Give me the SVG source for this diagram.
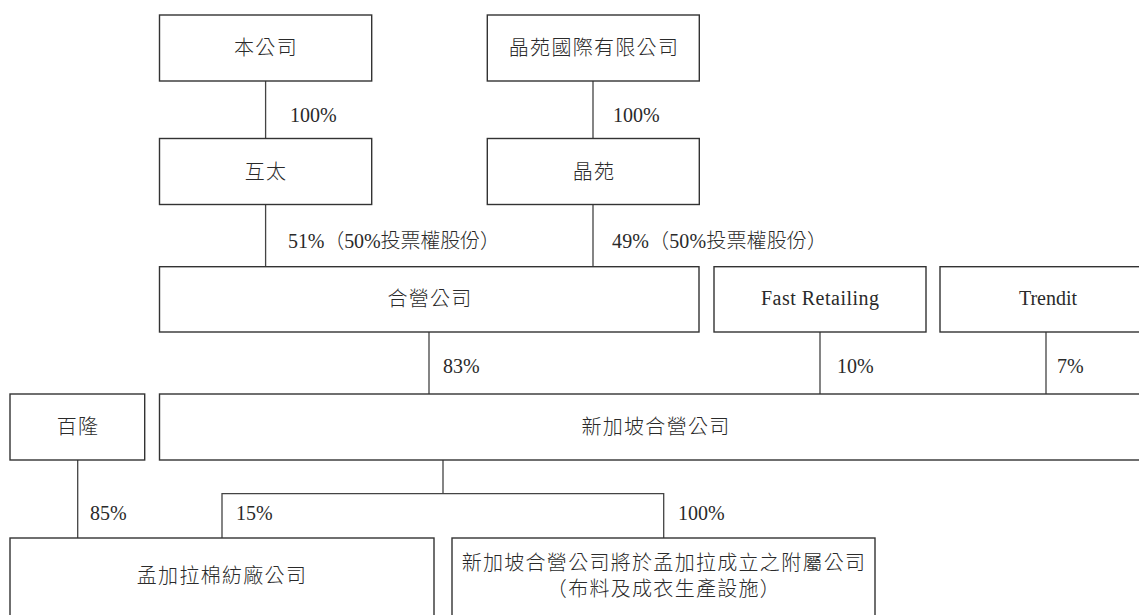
<svg xmlns="http://www.w3.org/2000/svg" width="1139" height="615" viewBox="0 0 1139 615">
<style>
.box{fill:#fff;stroke:#333;stroke-width:1.4}
.ln{fill:none;stroke:#444;stroke-width:1.3}
text{font-family:"Liberation Serif","Noto Sans CJK TC",serif;font-size:20px;fill:#2a2a2a}
.cn{letter-spacing:1.3px;text-anchor:middle;font-weight:300}
.mid{text-anchor:middle}
.mix{font-weight:300}
</style>
<rect width="1139" height="615" fill="#fff"/>
<g id="connectors">
<path class="ln" d="M265.6 81V138.5M265.6 204.5V266.7"/>
<path class="ln" d="M593 81V138.5M593 204.5V266.7"/>
<path class="ln" d="M429 332V394M820 332V394M1046 332V394"/>
<path class="ln" d="M443 460V493.7M222 538V493.7H663.7V538"/>
<path class="ln" d="M77.7 460V538"/>
<text x="290" y="122">100%</text>
<text x="613" y="122">100%</text>
<text class="mix" x="288" y="248" textLength="212" lengthAdjust="spacing">51%（50%投票權股份）</text>
<text class="mix" x="612" y="248" textLength="215" lengthAdjust="spacing">49%（50%投票權股份）</text>
<text x="443" y="373">83%</text>
<text x="837" y="373">10%</text>
<text x="1057" y="373">7%</text>
<text x="90" y="520">85%</text>
<text x="236" y="520">15%</text>
<text x="678" y="520">100%</text>
</g>
<g id="n-company"><rect class="box" x="159.5" y="15" width="212.2" height="66"/><text class="cn" x="266" y="55">本公司</text></g>
<g id="n-crystal-intl"><rect class="box" x="487.3" y="15" width="212" height="66"/><text class="cn" x="594" y="55">晶苑國際有限公司</text></g>
<g id="n-hutai"><rect class="box" x="159.5" y="138.5" width="212.2" height="66"/><text class="cn" x="266" y="178.5">互太</text></g>
<g id="n-crystal"><rect class="box" x="487.3" y="138.5" width="212" height="66"/><text class="cn" x="594" y="178.5">晶苑</text></g>
<g id="n-jv"><rect class="box" x="159.5" y="266.7" width="539.5" height="65.3"/><text class="cn" x="430" y="306">合營公司</text></g>
<g id="n-fast"><rect class="box" x="714" y="266.7" width="212" height="65.3"/><text class="mid" x="820" y="305" textLength="118" lengthAdjust="spacing">Fast Retailing</text></g>
<g id="n-trendit"><rect class="box" x="940" y="266.7" width="216" height="65.3"/><text class="mid" x="1048" y="305">Trendit</text></g>
<g id="n-bailong"><rect class="box" x="10" y="394" width="134.7" height="66"/><text class="cn" x="78" y="434">百隆</text></g>
<g id="n-sgjv"><rect class="box" x="159.5" y="394" width="991" height="66"/><text class="cn" x="656" y="434">新加坡合營公司</text></g>
<g id="n-mill"><rect class="box" x="10" y="538" width="424" height="90"/><text class="cn" x="222" y="583">孟加拉棉紡廠公司</text></g>
<g id="n-sub"><rect class="box" x="452" y="538" width="423" height="90"/><text class="cn" x="664" y="570">新加坡合營公司將於孟加拉成立之附屬公司</text><text class="cn" x="664" y="596">（布料及成衣生產設施）</text></g>
</svg>
